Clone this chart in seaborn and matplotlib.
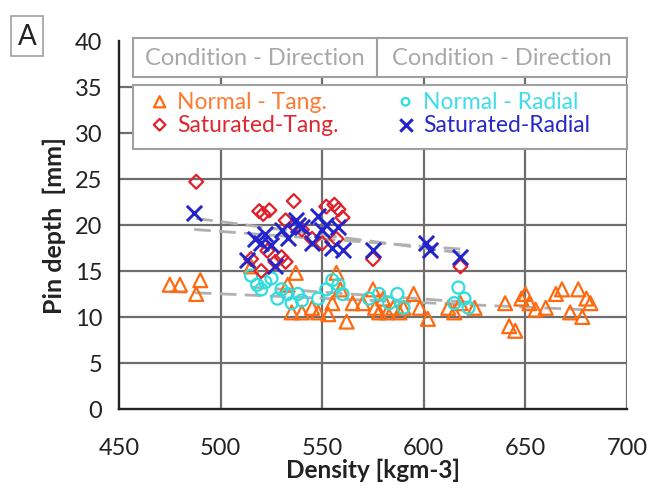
import numpy as np
import pandas as pd
import matplotlib
matplotlib.use("Agg")
import matplotlib.pyplot as plt
import seaborn as sns
from matplotlib.patches import Rectangle

# ---- data ----
nt_x = [475, 480, 488, 490, 515, 533, 537, 535, 540, 545, 548, 553, 555, 557, 559, 562,
        565, 570, 575, 576, 578, 580, 582, 585, 588, 590, 595, 598, 602, 612, 615, 618,
        625, 640, 642, 645, 648, 650, 652, 655, 660, 665, 668, 672, 676, 678, 680, 682]
nt_y = [13.5, 13.5, 12.5, 14.0, 15.5, 13.5, 14.8, 10.5, 10.5, 11.0, 10.5, 10.3, 11.5, 14.8, 13.0, 9.5,
        11.5, 11.5, 13.0, 11.0, 10.5, 12.0, 10.5, 11.0, 10.5, 11.0, 12.5, 11.0, 9.8, 11.0, 10.5, 11.5,
        11.0, 11.5, 9.0, 8.5, 12.0, 12.5, 11.5, 10.8, 11.0, 12.5, 13.0, 10.5, 13.0, 10.0, 12.0, 11.5]

nr_x = [515, 518, 520, 522, 525, 528, 530, 533, 535, 538, 540, 548, 552, 555, 558, 560,
        573, 578, 583, 587, 590, 615, 617, 620, 622]
nr_y = [14.5, 13.5, 13.0, 13.8, 14.2, 12.0, 13.0, 12.5, 11.5, 12.5, 11.8, 12.0, 13.0, 14.0, 13.5, 12.5,
        12.0, 12.5, 11.5, 12.5, 11.0, 11.5, 13.2, 12.0, 11.0]

st_x = [488, 519, 521, 524, 536, 552, 556, 558, 560, 515, 520, 523, 527, 530, 532,
        540, 545, 550, 557, 575, 618, 532, 536]
st_y = [24.7, 21.5, 21.2, 21.6, 22.6, 22.0, 22.2, 21.7, 20.8, 16.3, 15.0, 17.2, 16.0, 16.5, 16.0,
        19.5, 18.5, 18.0, 18.5, 16.3, 15.5, 20.5, 20.0]

sr_x = [487, 513, 517, 520, 522, 525, 527, 530, 533, 537, 538, 540, 545, 548, 550, 552,
        555, 558, 560, 575, 601, 603, 618]
sr_y = [21.3, 16.2, 18.5, 18.0, 19.0, 17.8, 15.5, 19.5, 18.6, 20.5, 20.0, 19.8, 18.0, 21.0, 19.5, 20.0,
        17.5, 19.8, 17.3, 17.3, 18.0, 17.3, 16.5]

series_names = ["Normal - Tang.", "Saturated-Tang.", "Normal - Radial", "Saturated-Radial"]
x_ticks = [450, 500, 550, 600, 650, 700]
y_ticks = [0, 5, 10, 15, 20, 25, 30, 35, 40]

FONT = ["Lato", "DejaVu Sans"]

sns.set_theme(style="white")
plt.rcParams["font.family"] = FONT

fig = plt.figure(figsize=(6.57, 5.02), dpi=100)
ax = fig.add_axes([119 / 657, 1 - 410 / 502, 508 / 657, 368 / 502])

c_nt = "#FF6A10"
c_st = "#E0202A"
c_nr = "#30DDDD"
c_sr = "#2424CC"

# grid
for gx in x_ticks[1:]:
    ax.axvline(gx, color="#6E6E6E", lw=1.6, zorder=0)
for gy in y_ticks[1:-1]:
    ax.axhline(gy, color="#6E6E6E", lw=1.6, zorder=0)

# trend lines (linear fits of each series)
for xs, ys in [(nt_x, nt_y), (nr_x, nr_y), (st_x, st_y), (sr_x, sr_y)]:
    xs = np.asarray(xs, float); ys = np.asarray(ys, float)
    k, b = np.polyfit(xs, ys, 1)
    xx = np.array([xs.min(), xs.max()])
    ax.plot(xx, k * xx + b, color="#B0B0B0", lw=2.0, ls=(0, (6, 3)), zorder=1)

def draw(xs, ys, marker, color, s, lw):
    n0 = len(ax.collections)
    sns.scatterplot(x=xs, y=ys, ax=ax, marker=marker, s=s, legend=False, zorder=3)
    coll = ax.collections[n0]
    if marker == "x":
        coll.set_facecolor(color)
        coll.set_edgecolor(color)
    else:
        coll.set_facecolor("none")
        coll.set_edgecolor(color)
    coll.set_linewidth(lw)

draw(nt_x, nt_y, "^", c_nt, 100, 1.6)
draw(nr_x, nr_y, "o", c_nr, 75, 1.6)
draw(st_x, st_y, "D", c_st, 50, 1.6)
draw(sr_x, sr_y, "x", c_sr, 120, 2.1)

ax.set_xlim(450, 700)
ax.set_ylim(0, 40)
ax.set_xticks(x_ticks)
ax.set_yticks(y_ticks)
for sp in ["top", "right"]:
    ax.spines[sp].set_visible(False)
for sp in ["left", "bottom"]:
    ax.spines[sp].set_color("#222222")
    ax.spines[sp].set_linewidth(1.7)
ax.tick_params(axis="y", direction="inout", length=14, width=1.4, color="#222222",
               labelsize=17, pad=5, labelcolor="#222222")
ax.tick_params(axis="x", direction="out", length=8, width=1.4, color="#222222",
               labelsize=17, pad=12, labelcolor="#222222")
ax.set_xlabel("Density [kgm-3]", fontsize=17.5, fontweight="bold", labelpad=0, color="#222222")
ax.set_ylabel("Pin depth  [mm]", fontsize=18, fontweight="bold", labelpad=6, color="#222222")

# legend header box
x0 = (133 - 119) / 508
ax.add_patch(Rectangle((x0, 36.1 / 40), 1 - x0, 4.2 / 40, transform=ax.transAxes,
                       facecolor="white", edgecolor="#A0A0A0", lw=1.5, zorder=5, clip_on=False))
xd = (377 - 119) / 508
ax.plot([xd, xd], [36.1 / 40, 40.3 / 40], transform=ax.transAxes, color="#A0A0A0",
        lw=1.5, zorder=6, clip_on=False)
ax.text((x0 + xd) / 2, 38.2 / 40, "Condition - Direction", transform=ax.transAxes,
        ha="center", va="center", fontsize=17, color="#A8A8A8", zorder=7)
ax.text((xd + 1) / 2, 38.2 / 40, "Condition - Direction", transform=ax.transAxes,
        ha="center", va="center", fontsize=17, color="#A8A8A8", zorder=7)

# legend box
ax.add_patch(Rectangle((x0, 28.3 / 40), 1 - x0, 6.9 / 40, transform=ax.transAxes,
                       facecolor="white", edgecolor="#A0A0A0", lw=1.5, zorder=5, clip_on=False))
entries = [
    (470, 33.4, "^", c_nt, series_names[0], "#FF7A30"),
    (470, 30.9, "D", c_st, series_names[1], "#E02830"),
    (591, 33.4, "o", c_nr, series_names[2], "#40DDE8"),
    (591, 30.9, "x", c_sr, series_names[3], "#2828C8"),
]
for mx, my, mk, mc, lab, tc in entries:
    if mk == "x":
        ax.scatter([mx], [my], marker=mk, s=80, color=mc, lw=2.2, zorder=8, clip_on=False)
    else:
        sz = {"^": 65, "D": 35, "o": 30}[mk]
        ax.scatter([mx], [my], marker=mk, s=sz, facecolor="none", edgecolor=mc, lw=1.6,
                   zorder=8, clip_on=False)
    ax.text(mx + 8.5, my, lab, fontsize=16.5, color=tc, ha="left", va="center", zorder=8)

# panel label
fig.text(27 / 657, 1 - 37 / 502, "A", fontsize=20, ha="center", va="center", color="#222222",
         bbox=dict(boxstyle="square,pad=0.25", facecolor="white", edgecolor="#A0A0A0", lw=1.2))

fig.savefig("out.png", dpi=100)
